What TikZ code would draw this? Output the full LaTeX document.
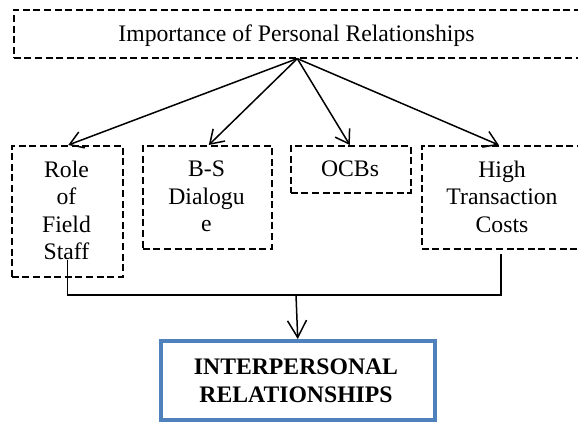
\documentclass[tikz,border=0pt]{standalone}
\usepackage{fontspec}
\setmainfont{Liberation Serif}
\usetikzlibrary{arrows.meta}
\definecolor{frameblue}{HTML}{4F81BD}
\tikzset{
  dbox/.style={draw, dash pattern=on 7pt off 3.6pt, line width=1.6pt, inner sep=0pt, anchor=north west},
  txt/.style={inner sep=0pt, align=center, font=\fontsize{23.7}{27.5}\selectfont},
  conn/.style={line width=1.5pt},
  arr/.style={conn, -{Straight Barb[length=13pt,width=17pt,line width=1.5pt]}},
  mainbox/.style={draw=frameblue, line width=3.5pt, inner sep=0pt, anchor=north west}
}
\begin{document}
\begin{tikzpicture}[x=1pt,y=-1pt]
\clip (0,0) rectangle (578,421);
% boxes
\node[dbox, minimum width=567pt, minimum height=48pt] (top) at (13,9) {};
\node[dbox, minimum width=111pt, minimum height=131pt] (role) at (11,145) {};
\node[dbox, minimum width=129pt, minimum height=103pt] (bs) at (142,145) {};
\node[dbox, minimum width=120pt, minimum height=47pt] (ocb) at (290,145) {};
\node[dbox, minimum width=162pt, minimum height=103pt] (high) at (421,145) {};
\node[mainbox, minimum width=274pt, minimum height=79pt] (ir) at (159,339) {};
% texts
\node[txt, anchor=base] (toptxt) at (296.5,41.7) {Importance of Personal Relationships};
\node[txt, anchor=north] (roletxt) at (66.5,160.7) {Role\\of\\Field\\Staff};
\node[txt, anchor=north] (bstxt) at (206.5,160.7) {B-S\\Dialogu\\e};
\node[txt, anchor=base] (ocbtxt) at (350,176.7) {OCBs};
\node[txt, anchor=north] (hightxt) at (502,160.7) {High\\Transaction\\Costs};
\node[txt, anchor=north, font=\fontsize{23.7}{28}\selectfont\bfseries] (irtxt) at (296,359) {INTERPERSONAL\\RELATIONSHIPS};
% arrows from the heading
\draw[arr] (top.south) -- ([xshift=1pt]role.north);
\draw[arr] (top.south) -- ([xshift=1.5pt]bs.north);
\draw[arr] (top.south) -- ([xshift=-1pt]ocb.north);
\draw[arr] (top.south) -- ([xshift=-4pt]high.north);
% joining lines into the result
\coordinate (join) at (296,295);
\draw[conn] ([yshift=18pt]role.south) |- (join) -| ([xshift=-2pt,yshift=-4pt]high.south);
\draw[arr, -{Straight Barb[length=17pt,width=19pt,line width=1.5pt]}] (join) -- (ir.north);
\end{tikzpicture}
\end{document}
